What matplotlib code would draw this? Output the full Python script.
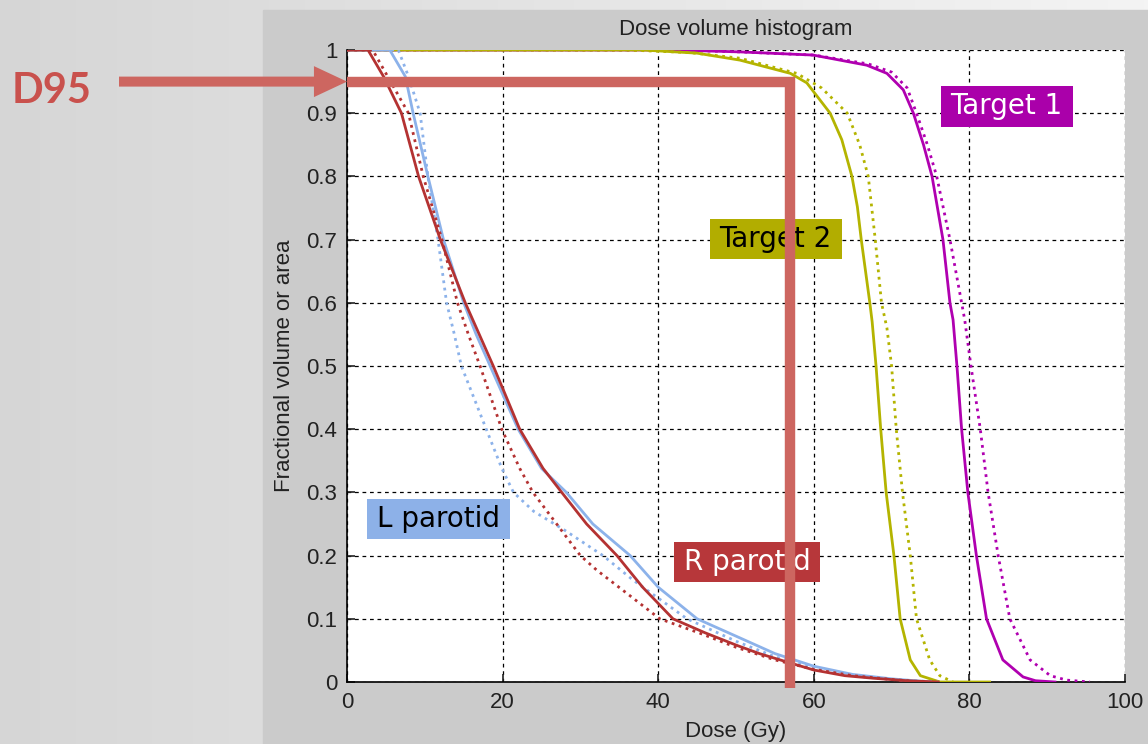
import numpy as np
import matplotlib
matplotlib.use("Agg")
import matplotlib.pyplot as plt
from matplotlib.colors import LinearSegmentedColormap
from matplotlib.patches import Rectangle
from matplotlib.ticker import FuncFormatter

# --- cumulative DVH curves: dose (Gy) vs fractional volume ---
# Target 1 (magenta)
t1_dose = [0, 42, 50.5, 59.9, 66.8, 69.4, 71.5, 72.8, 74.1, 75.2, 76.6, 77.5, 77.9, 78.4, 79.0,
           79.8, 80.9, 82.2, 84.3, 86.9, 88.5, 91]
t1_frac = [1, 1, 0.997, 0.992, 0.976, 0.963, 0.937, 0.9, 0.85, 0.8, 0.7, 0.6, 0.573, 0.5, 0.4,
           0.3, 0.2, 0.1, 0.035, 0.008, 0.002, 0]
t1_dose_b = [0, 42, 50.5, 60, 67, 70, 72, 73.2, 74.6, 75.8, 77.5, 79.0, 79.4, 80.2, 81.4, 82.4,
             83.7, 85.2, 87.8, 90.4, 92.5, 95.5]
t1_frac_b = [1, 1, 0.997, 0.992, 0.978, 0.965, 0.94, 0.9, 0.85, 0.8, 0.7, 0.6, 0.573, 0.5, 0.4,
             0.3, 0.2, 0.1, 0.035, 0.01, 0.003, 0]

# Target 2 (olive)
t2_dose = [0, 38, 45, 50.5, 57, 59.1, 62.1, 63.6, 64.9, 65.6, 66.1, 67.2, 67.5, 68.0, 68.6,
           69.3, 70.3, 71.1, 72.4, 73.7, 76.2, 82.6]
t2_frac = [1, 1, 0.995, 0.984, 0.963, 0.948, 0.9, 0.858, 0.8, 0.752, 0.7, 0.6, 0.57, 0.5, 0.4,
           0.3, 0.2, 0.1, 0.035, 0.01, 0, 0]
t2_dose_b = [0, 36, 44, 50.5, 57.8, 61, 64.3, 65.9, 67.0, 67.9, 68.7, 69.4, 70.0, 70.6, 71.4,
             72.4, 73.2, 74.9, 76.2, 77.9]
t2_frac_b = [1, 1, 0.996, 0.987, 0.963, 0.94, 0.9, 0.85, 0.8, 0.7, 0.6, 0.56, 0.5, 0.4, 0.3,
             0.2, 0.1, 0.035, 0.01, 0]

# L parotid (blue)
lp_dose = [0, 5.5, 7.5, 8.5, 10.4, 12.4, 15.0, 16.6, 18.4, 22.0, 25.0, 28.2, 31.6, 36.4, 40,
           45, 50.1, 55, 60, 65, 70, 75]
lp_frac = [1, 1, 0.958, 0.9, 0.8, 0.7, 0.6, 0.55, 0.5, 0.4, 0.338, 0.3, 0.25, 0.2, 0.15,
           0.1, 0.072, 0.045, 0.025, 0.012, 0.005, 0]
lp_dose_b = [0, 6.6, 7.9, 9.4, 10.4, 11.7, 12.8, 13.8, 14.7, 17.9, 19.9, 21.4, 24.0, 28, 32.9,
             36.8, 43.7, 50.1, 55, 60, 65, 70, 76]
lp_frac_b = [1, 1, 0.958, 0.9, 0.8, 0.7, 0.6, 0.55, 0.5, 0.4, 0.338, 0.3, 0.27, 0.24, 0.2,
             0.161, 0.1, 0.064, 0.04, 0.022, 0.011, 0.004, 0]

# R parotid (red)
rp_dose = [0, 2.7, 4.7, 7.0, 9.2, 12.0, 15.2, 17.0, 18.8, 20.1, 22.2, 25.2, 27.6, 30.8, 34.7,
           38, 41.9, 46, 50.1, 53, 57, 60, 64, 67.6, 72, 76]
rp_frac = [1, 1, 0.958, 0.9, 0.8, 0.7, 0.6, 0.55, 0.5, 0.462, 0.4, 0.338, 0.3, 0.25, 0.2,
           0.15, 0.1, 0.078, 0.058, 0.045, 0.03, 0.019, 0.01, 0.006, 0.002, 0]
rp_dose_b = [0, 3.3, 7.9, 9.8, 12.2, 14.2, 15.6, 17.1, 19.9, 22.2, 23.9, 30.0, 32.1, 36, 40.2,
             45.4, 50, 55, 60, 65, 70, 74]
rp_frac_b = [1, 1, 0.9, 0.8, 0.7, 0.6, 0.55, 0.5, 0.4, 0.338, 0.3, 0.2, 0.177, 0.14, 0.1,
             0.077, 0.055, 0.035, 0.02, 0.01, 0.004, 0]

# D95 marker for target 2
d95_level = 0.95
d95_dose = 57

x_ticks = [0, 20, 40, 60, 80, 100]
y_ticks = [0, 0.1, 0.2, 0.3, 0.4, 0.5, 0.6, 0.7, 0.8, 0.9, 1]

MAGENTA = '#b000b0'
OLIVE = '#b4b400'
BLUE = '#8cb2ea'
RED = '#b43232'
MARK = '#cd6660'

plt.rcParams['font.family'] = ['Liberation Sans', 'DejaVu Sans']

W, H = 1148, 744
fig = plt.figure(figsize=(W / 100, H / 100), dpi=100)

# slide background and the grey figure panel
bg = fig.add_axes([0, 0, 1, 1], zorder=-10)
cmap = LinearSegmentedColormap.from_list('slide', ['#d6d6d6', '#f4f4f4'])
bg.imshow(np.linspace(0, 1, 256)[None, :], cmap=cmap, aspect='auto', extent=[0, 1, 0, 1])
bg.axis('off')
fig.patches.append(Rectangle((263 / W, 0), 1 - 263 / W, (H - 10) / H,
                             transform=fig.transFigure, color='#cbcbcb', zorder=-5))

ax = fig.add_axes([347 / W, 62 / H, 778 / W, 632 / H])
ax.set_facecolor('white')

# --- curves ---
curves = [
    (t1_dose, t1_frac, t1_dose_b, t1_frac_b, MAGENTA),
    (t2_dose, t2_frac, t2_dose_b, t2_frac_b, OLIVE),
    (lp_dose, lp_frac, lp_dose_b, lp_frac_b, BLUE),
    (rp_dose, rp_frac, rp_dose_b, rp_frac_b, RED),
]
for d, f, db, fb, c in curves:
    ax.plot(db, fb, color=c, lw=2, ls=':', zorder=3)
    ax.plot(d, f, color=c, lw=2, zorder=3)

ax.set_xlim(0, 100)
ax.set_ylim(0, 1)
ax.set_xticks(x_ticks)
ax.set_yticks(y_ticks)
ax.yaxis.set_major_formatter(FuncFormatter(lambda v, p: f'{v:g}'))
ax.tick_params(direction='in', length=6, width=1.2, labelsize=16, pad=7, colors='#222222')
ax.grid(True, color='black', lw=0.9, ls=(0, (3, 3)))
for side in ['top', 'right']:
    ax.spines[side].set_visible(False)
for side in ['left', 'bottom']:
    ax.spines[side].set_linewidth(1.2)

ax.set_title('Dose volume histogram', fontsize=16, pad=11, color='#222222')
ax.set_xlabel('Dose (Gy)', fontsize=16, labelpad=6, color='#222222')
ax.set_ylabel('Fractional volume or area', fontsize=16, labelpad=8, color='#222222')

# --- structure labels ---
labels = [
    ('Target 1', 84.8, 0.911, '#aa00aa', 'white'),
    ('Target 2', 55.1, 0.701, '#b2ad00', 'black'),
    ('L parotid', 11.8, 0.258, '#8db1e8', 'black'),
    ('R parotid', 51.4, 0.190, '#b7373a', 'white'),
]
for txt, x, y, bgc, fc in labels:
    ax.text(x, y, txt, fontsize=20, family='DejaVu Sans', color=fc, ha='center', va='center',
            zorder=5, bbox=dict(boxstyle='square,pad=0.36', mutation_aspect=0.63,
                                fc=bgc, ec='none'))

# --- D95 marker ---
ax.plot([0, d95_dose, d95_dose], [d95_level, d95_level, -0.01], color=MARK, lw=7.5,
        solid_joinstyle='miter', solid_capstyle='butt', clip_on=False, zorder=6)
ax.annotate('', xy=(0, d95_level), xytext=(-228, 0), textcoords='offset pixels',
            annotation_clip=False,
            arrowprops=dict(arrowstyle='simple,head_length=2.38,head_width=2.23,tail_width=0.72',
                            mutation_scale=10, fc=MARK, ec='none', lw=0,
                            shrinkA=0, shrinkB=0))
fig.text(12 / W, 1 - 91 / H, 'D95', fontsize=30, fontweight='bold', family='Lato',
         color='#c9514d', ha='left', va='center')

fig.savefig('out.png', dpi=100)
